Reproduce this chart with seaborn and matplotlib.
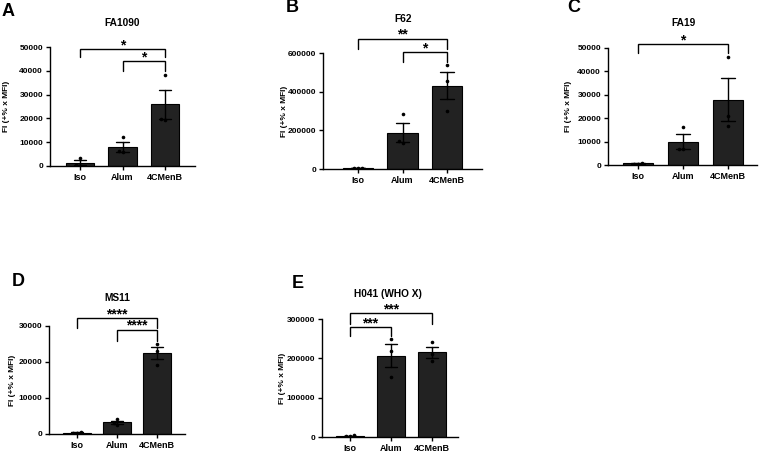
import matplotlib
matplotlib.use("Agg")
import matplotlib.pyplot as plt
import seaborn as sns
import pandas as pd

# ---------------- data ----------------
groups = ["Iso", "Alum", "4CMenB"]

# A  FA1090
fa1090_iso = [3500, 500, 200]
fa1090_alum = [12000, 6200, 5800]
fa1090_4cmenb = [38400, 19800, 19400]

# B  F62
f62_iso = [6000, 4000, 5000]
f62_alum = [284500, 142300, 137000]
f62_4cmenb = [536500, 456000, 300000]

# C  FA19
fa19_iso = [900, 500, 600]
fa19_alum = [16200, 6900, 6700]
fa19_4cmenb = [46100, 20900, 16650]

# D  MS11
ms11_iso = [450, 350, 400]
ms11_alum = [4100, 3100, 2500]
ms11_4cmenb = [25000, 23150, 19170]

# E  H041 (WHO X)
h041_iso = [4000, 3000, 3500]
h041_alum = [248800, 219000, 153400]
h041_4cmenb = [242200, 210000, 193000]

titles = ["FA1090", "F62", "FA19", "MS11", "H041 (WHO X)"]
letters = ["A", "B", "C", "D", "E"]
yticks_list = [
    [0, 10000, 20000, 30000, 40000, 50000],
    [0, 200000, 400000, 600000],
    [0, 10000, 20000, 30000, 40000, 50000],
    [0, 10000, 20000, 30000],
    [0, 100000, 200000, 300000],
]
values_list = [
    [fa1090_iso, fa1090_alum, fa1090_4cmenb],
    [f62_iso, f62_alum, f62_4cmenb],
    [fa19_iso, fa19_alum, fa19_4cmenb],
    [ms11_iso, ms11_alum, ms11_4cmenb],
    [h041_iso, h041_alum, h041_4cmenb],
]
# significance brackets: (from, to, label)
sig_list = [
    [(0, 2, "*"), (1, 2, "*")],
    [(0, 2, "**"), (1, 2, "*")],
    [(0, 2, "*")],
    [(0, 2, "****"), (1, 2, "****")],
    [(0, 2, "***"), (0, 1, "***")],
]

# ---------------- layout (pixels) ----------------
W, H = 760, 453
layout = [
    dict(L=50, R=195, T=47, B=166, xlim=(-0.706, 2.706), ylx=7, tc=(122, 23), lc=(2, 12)),
    dict(L=323, R=482, T=53, B=169, xlim=(-0.787, 2.787), ylx=285, tc=(403, 19), lc=(286, 8)),
    dict(L=608, R=757, T=48, B=165, xlim=(-0.667, 2.644), ylx=568, tc=(684, 23), lc=(567, 8)),
    dict(L=49, R=185, T=326, B=434, xlim=(-0.7, 2.7), ylx=12, tc=(117, 298), lc=(12, 282)),
    dict(L=322, R=458, T=319, B=437, xlim=(-0.683, 2.634), ylx=282, tc=(388, 294), lc=(292, 283)),
]
# bracket heights (data units): (y, leg)
bracket_pos = [
    [(49000, 3200), (44100, 4200)],
    [(673600, 51600), (605000, 51400)],
    [(51700, 3900)],
    [(32130, 2780), (28900, 3000)],
    [(315200, 27200), (279500, 22200)],
]

sns.set_theme(style="ticks")
plt.rcParams["font.family"] = ["Liberation Sans", "DejaVu Sans"]
plt.rcParams["font.weight"] = "bold"
plt.rcParams["axes.labelweight"] = "bold"
plt.rcParams["axes.titleweight"] = "bold"
plt.rcParams["text.color"] = "black"
plt.rcParams["axes.labelcolor"] = "black"
plt.rcParams["xtick.color"] = "black"
plt.rcParams["ytick.color"] = "black"

fig = plt.figure(figsize=(W / 100, H / 100), dpi=100)
fig.patch.set_facecolor("white")

for i in range(5):
    lay = layout[i]
    L, R, T, B = lay["L"], lay["R"], lay["T"], lay["B"]
    ax = fig.add_axes([L / W, 1 - B / H, (R - L) / W, (B - T) / H])
    rows = []
    for g, vals in zip(groups, values_list[i]):
        for v in vals:
            rows.append({"group": g, "value": v})
    df = pd.DataFrame(rows)

    sns.barplot(data=df, x="group", y="value", order=groups, ax=ax,
                color="#222222", edgecolor="black", linewidth=0.8,
                width=0.68, errorbar="se", capsize=0.3,
                err_kws={"color": "black", "linewidth": 1.0}, zorder=2)
    sns.swarmplot(data=df, x="group", y="value", order=groups, ax=ax,
                  color="black", size=2.6, zorder=3)

    yt = yticks_list[i]
    ax.set_ylim(0, yt[-1])
    ax.set_yticks(yt)
    ax.set_yticklabels([str(t) for t in yt], fontsize=6, fontweight="bold",
                       color="black")
    ax.set_xlim(*lay["xlim"])
    ax.set_xticks(range(3))
    ax.set_xticklabels(groups, fontsize=6.5, fontweight="bold", color="black")
    ax.set_xlabel("")
    ax.set_ylabel("FI (+% x MFI)", fontsize=6, fontweight="bold", va="center",
                  color="black")
    ax.yaxis.set_label_coords((lay["ylx"] - L) / (R - L), 0.5)
    for s in ["top", "right"]:
        ax.spines[s].set_visible(False)
    for s in ["left", "bottom"]:
        ax.spines[s].set_linewidth(1.0)
        ax.spines[s].set_color("black")
    ax.tick_params(axis="both", direction="out", length=3, width=1.0,
                   colors="black", pad=2)
    ax.set_facecolor("white")

    # title
    tcx, tcy = lay["tc"]
    ax.set_title(titles[i], fontsize=7.3, fontweight="bold", pad=0, color="black",
                 x=(tcx - L) / (R - L), y=1 + (T - tcy) / (B - T), va="center")

    # panel letter
    lx, lcy = lay["lc"]
    fig.text(lx / W, 1 - lcy / H, letters[i], fontsize=13, fontweight="bold",
             ha="left", va="center", color="black")

    # brackets
    for (a, b, lab), (yb, leg) in zip(sig_list[i], bracket_pos[i]):
        ax.plot([a, a, b, b], [yb - leg, yb, yb, yb - leg], color="black",
                lw=1.0, clip_on=False, solid_joinstyle="miter", zorder=4)
        ax.text((a + b) / 2, yb, lab, ha="center", va="baseline",
                fontsize=10, fontweight="bold", clip_on=False, color="black")

fig.savefig("out.png", dpi=100, facecolor="white")
